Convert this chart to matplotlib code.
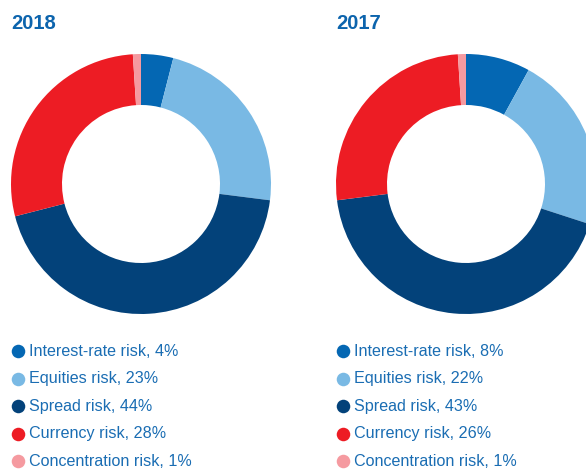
import matplotlib.pyplot as plt

labels = ["Interest-rate risk", "Equities risk", "Spread risk", "Currency risk", "Concentration risk"]
colors = ["#0467b3", "#79b9e4", "#03427a", "#ed1c24", "#f59aa0"]
shares_2018 = [4, 23, 44, 28, 1]
shares_2017 = [8, 22, 43, 26, 1]
years = ["2018", "2017"]

plt.rcParams["font.family"] = ["Liberation Sans", "DejaVu Sans"]

W, H = 586, 469
fig = plt.figure(figsize=(W / 100, H / 100), dpi=100)
ax = fig.add_axes([0, 0, 1, 1])

text_color = "#1a6db3"
panels = [(shares_2018, 141, 11), (shares_2017, 466, 336)]
for (shares, cx, lx), year in zip(panels, years):
    ax.pie(shares, colors=colors, startangle=90, counterclock=False,
           center=(cx, H - 184), radius=130,
           wedgeprops=dict(width=51, linewidth=0))
    ax.text(lx, H - 23, year, fontsize=14.5, fontweight="bold", color="#0c64ad",
            va="center", ha="left")
    for i, (lab, v, c) in enumerate(zip(labels, shares, colors)):
        y = H - (351 + i * 27.6)
        ax.scatter([lx + 7], [y], s=95, color=c, zorder=3, linewidths=0)
        ax.text(lx + 18, y, f"{lab}, {v}%", fontsize=11.6, color=text_color,
                va="center", ha="left")

ax.set_xlim(0, W)
ax.set_ylim(0, H)
ax.set_aspect("auto")
ax.axis("off")

fig.savefig("out.png", dpi=100)
